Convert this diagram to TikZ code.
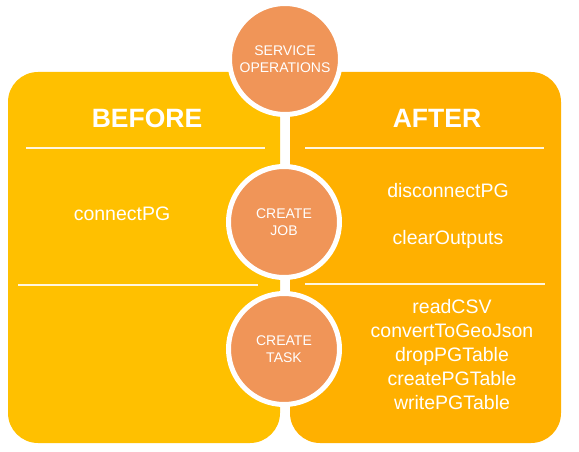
\documentclass[tikz,border=0pt]{standalone}
\usepackage{fontspec}
\setmainfont{Liberation Sans}
\definecolor{leftc}{HTML}{FFC000}
\definecolor{rightc}{HTML}{FFB000}
\definecolor{circc}{HTML}{F09558}
\definecolor{linec}{HTML}{FFF6E0}
\begin{document}
\begin{tikzpicture}[x=1pt,y=-1pt,
  panel/.style={rounded corners=30pt},
  stage/.style={circle, fill=circc, draw=white, line width=5pt, minimum size=111pt,
    inner sep=0pt, text=white, align=center, font=\fontsize{14}{17}\selectfont},
  head/.style={text=white, font=\bfseries\fontsize{26.5}{30}\selectfont},
  item/.style={text=white, align=center, font=\fontsize{19.5}{24}\selectfont},
  sep/.style={draw=linec, line width=2pt}]
\useasboundingbox (0,0) rectangle (579,452);
% panels
\fill[leftc, panel] (8,72) rectangle (280,443);
\fill[rightc, panel] (290,72) rectangle (561,443);
% separators
\draw[sep] (26,148) -- (265,148);
\draw[sep] (305,148) -- (544,148);
\draw[sep] (18,285) -- (258,285);
\draw[sep] (305,284) -- (545,284);
% stages
\node[stage] (svc) at (285,59) {SERVICE\\OPERATIONS};
\node[stage] (job) at (284,222) {CREATE\\JOB};
\node[stage] (task) at (284,349) {CREATE\\TASK};
% headings
\node[head] (before) at (147,118) {BEFORE};
\node[head] (after) at (437,118) {AFTER};
% items
\node[item] (connect) at (122,214) {connectPG};
\node[item] (disconnect) at (448,191) {disconnectPG};
\node[item] (clear) at (448,239) {clearOutputs};
\node[item] (tasks) at (452,355) {readCSV\\convertToGeoJson\\dropPGTable\\createPGTable\\writePGTable};
\end{tikzpicture}
\end{document}
